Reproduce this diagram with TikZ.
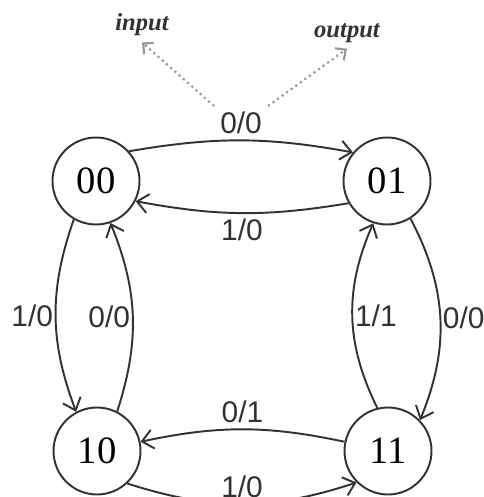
\documentclass[tikz,border=0pt]{standalone}
\usepackage{fontspec}
\setmainfont{Liberation Serif}
\newfontfamily\edgefont{Liberation Sans}
\usetikzlibrary{arrows.meta}
\definecolor{lineGray}{RGB}{50,50,50}
\definecolor{dotGray}{RGB}{150,150,150}

\begin{document}
\begin{tikzpicture}[
  state/.style={draw=lineGray, circle, line width=1.1pt, minimum size=1.74cm, inner sep=0pt,
    font=\fontsize{22}{26}\selectfont},
  trans/.style={draw=lineGray, line width=1.1pt, -{Straight Barb[length=2.2mm,width=3.8mm]}},
  lbl/.style={font=\edgefont\fontsize{17}{19}\selectfont, text=lineGray, inner sep=3pt},
  tag/.style={font=\bfseries\itshape\fontsize{14}{16}\selectfont, text=lineGray}]
  \useasboundingbox (0,0) rectangle (9.66,-9.94);
  \clip (0,0) rectangle (9.66,-9.94);

  % States
  \node[state] (s00) at (1.92,-3.62) {00};
  \node[state] (s01) at (7.74,-3.62) {01};
  \node[state] (s10) at (1.94,-9.02) {10};
  \node[state] (s11) at (7.76,-9.02) {11};

  % Transitions input/output
  \draw[trans] (s00.42) to[bend left=10] node[lbl, above] (top) {0/0} (s01.140);
  \draw[trans] (s01.210) to[bend left=10] node[lbl, below] {1/0} (s00.333);
  \draw[trans] (s00.240) to[bend right=20] node[lbl, left, inner sep=1pt] {1/0} (s10.118);
  \draw[trans] (s10.63) to[bend right=20] node[lbl, left, inner sep=1pt] {0/0} (s00.289);
  \draw[trans] (s11.104) to[bend left=25] node[lbl, right, inner sep=1pt] {1/1} (s01.252);
  \draw[trans] (s01.302) to[bend left=25] node[lbl, right, inner sep=1pt] {0/0} (s11.44);
  \draw[trans] (s11.168) to[bend right=12] node[lbl, above] {0/1} (s10.12);
  \draw[trans] (s10.313) to[bend right=18] node[lbl, above] {1/0} (s11.225);

  % Legend for the label format
  \node[tag] (in) at (2.84,-0.5) {input};
  \node[tag] (out) at (6.94,-0.66) {output};
  \draw[dotGray, dotted, line width=1.2pt, -{Straight Barb[length=1.6mm,width=3mm]}]
    (top.north west) -- (in.south);
  \draw[dotGray, dotted, line width=1.2pt, -{Straight Barb[length=1.6mm,width=3mm]}]
    (top.north east) -- (out.south);
\end{tikzpicture}
\end{document}
